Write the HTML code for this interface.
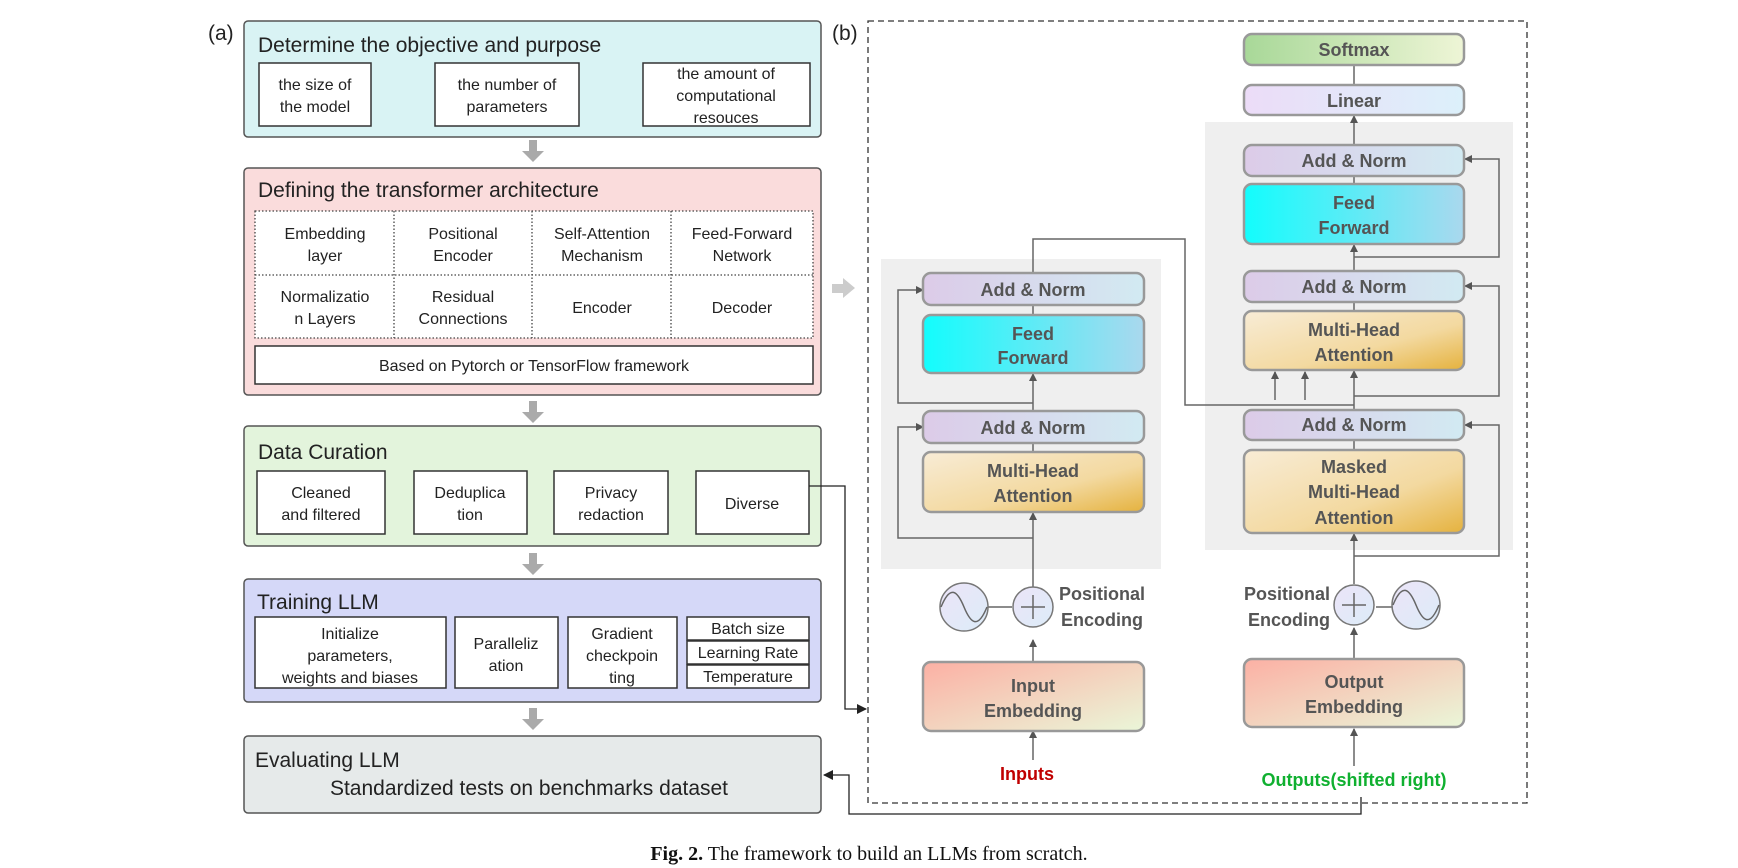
<!DOCTYPE html>
<html><head><meta charset="utf-8"><style>
html,body{margin:0;padding:0;background:#fff;}
svg{display:block;}
.t{font-family:"Liberation Sans",sans-serif;fill:#222;}
.s{font-family:"Liberation Sans",sans-serif;fill:#222;font-size:16px;text-anchor:middle;}
.b{font-family:"Liberation Sans",sans-serif;font-weight:bold;fill:#555;font-size:18px;text-anchor:middle;}
</style></head><body>
<svg width="1738" height="868" viewBox="0 0 1738 868" xmlns="http://www.w3.org/2000/svg">
<defs>
<linearGradient id="an" x1="0" y1="0" x2="1" y2="0"><stop offset="0" stop-color="#dccbe8"/><stop offset="1" stop-color="#d2eaf2"/></linearGradient>
<linearGradient id="ff" x1="0" y1="0" x2="1" y2="0"><stop offset="0" stop-color="#12fdfd"/><stop offset="1" stop-color="#aad8ee"/></linearGradient>
<linearGradient id="mh" x1="0" y1="0" x2="1" y2="1"><stop offset="0" stop-color="#f8ecd6"/><stop offset="0.6" stop-color="#f3d9a0"/><stop offset="1" stop-color="#e5b23e"/></linearGradient>
<linearGradient id="em" x1="0" y1="0" x2="1" y2="1"><stop offset="0" stop-color="#fcb0a4"/><stop offset="1" stop-color="#eaf6d8"/></linearGradient>
<linearGradient id="sm" x1="0" y1="0" x2="1" y2="0"><stop offset="0" stop-color="#a8d898"/><stop offset="1" stop-color="#eef5d6"/></linearGradient>
<linearGradient id="ln" x1="0" y1="0" x2="1" y2="0"><stop offset="0" stop-color="#ecdcf8"/><stop offset="1" stop-color="#dcf0fa"/></linearGradient>
<linearGradient id="ci" x1="0" y1="0" x2="1" y2="1"><stop offset="0" stop-color="#ece4f8"/><stop offset="1" stop-color="#dcecf8"/></linearGradient>
<marker id="ar" markerWidth="8" markerHeight="8" refX="7" refY="4" orient="auto" markerUnits="userSpaceOnUse"><path d="M0,0 L8,4 L0,8 z" fill="#555"/></marker>
<marker id="ak" markerWidth="10" markerHeight="10" refX="9" refY="5" orient="auto" markerUnits="userSpaceOnUse"><path d="M0,0 L10,5 L0,10 z" fill="#222"/></marker>
</defs>

<!-- Panel (a) -->
<text class="t" x="208" y="40" font-size="21">(a)</text>

<rect x="244" y="21" width="577" height="116" rx="4" fill="#d9f3f4" stroke="#555" stroke-width="1.5"/>
<text class="t" x="258" y="52" font-size="21">Determine the objective and purpose</text>
<rect x="259" y="63" width="112" height="63" fill="#fff" stroke="#333" stroke-width="1.5"/>
<text class="s" x="315" y="90">the size of</text><text class="s" x="315" y="112">the model</text>
<rect x="435" y="63" width="144" height="63" fill="#fff" stroke="#333" stroke-width="1.5"/>
<text class="s" x="507" y="90">the number of</text><text class="s" x="507" y="112">parameters</text>
<rect x="643" y="63" width="167" height="63" fill="#fff" stroke="#333" stroke-width="1.5"/>
<text class="s" x="726" y="79">the amount of</text><text class="s" x="726" y="101">computational</text><text class="s" x="726" y="123">resouces</text>

<g fill="#aaa"><rect x="529" y="140" width="8" height="12"/><path d="M522,151 L544,151 L533,162 z"/></g>

<rect x="244" y="168" width="577" height="227" rx="4" fill="#fadcdc" stroke="#555" stroke-width="1.5"/>
<text class="t" x="258" y="197" font-size="21">Defining the transformer architecture</text>
<g stroke="#444" stroke-width="1.3" stroke-dasharray="1.5,2" fill="none">
<rect x="255" y="211" width="558" height="127" fill="#fff"/>
<line x1="255" y1="275" x2="813" y2="275"/>
<line x1="394" y1="211" x2="394" y2="338"/><line x1="532" y1="211" x2="532" y2="338"/><line x1="671" y1="211" x2="671" y2="338"/>
</g>
<text class="s" x="325" y="239">Embedding</text><text class="s" x="325" y="261">layer</text>
<text class="s" x="463" y="239">Positional</text><text class="s" x="463" y="261">Encoder</text>
<text class="s" x="602" y="239">Self-Attention</text><text class="s" x="602" y="261">Mechanism</text>
<text class="s" x="742" y="239">Feed-Forward</text><text class="s" x="742" y="261">Network</text>
<text class="s" x="325" y="302">Normalizatio</text><text class="s" x="325" y="324">n Layers</text>
<text class="s" x="463" y="302">Residual</text><text class="s" x="463" y="324">Connections</text>
<text class="s" x="602" y="313">Encoder</text>
<text class="s" x="742" y="313">Decoder</text>
<rect x="255" y="346" width="558" height="38" fill="#fff" stroke="#333" stroke-width="1.5"/>
<text class="s" x="534" y="371">Based on Pytorch or TensorFlow framework</text>

<g fill="#aaa"><rect x="529" y="401" width="8" height="12"/><path d="M522,412 L544,412 L533,423 z"/></g>

<rect x="244" y="426" width="577" height="120" rx="4" fill="#e3f4dc" stroke="#555" stroke-width="1.5"/>
<text class="t" x="258" y="459" font-size="21">Data Curation</text>
<rect x="257" y="471" width="128" height="63" fill="#fff" stroke="#333" stroke-width="1.5"/>
<text class="s" x="321" y="498">Cleaned</text><text class="s" x="321" y="520">and filtered</text>
<rect x="414" y="471" width="113" height="63" fill="#fff" stroke="#333" stroke-width="1.5"/>
<text class="s" x="470" y="498">Deduplica</text><text class="s" x="470" y="520">tion</text>
<rect x="554" y="471" width="114" height="63" fill="#fff" stroke="#333" stroke-width="1.5"/>
<text class="s" x="611" y="498">Privacy</text><text class="s" x="611" y="520">redaction</text>
<rect x="696" y="471" width="113" height="63" fill="#fff" stroke="#333" stroke-width="1.5"/>
<text class="s" x="752" y="509">Diverse</text>

<g fill="#aaa"><rect x="529" y="553" width="8" height="12"/><path d="M522,564 L544,564 L533,575 z"/></g>

<rect x="244" y="579" width="577" height="123" rx="4" fill="#d5d8f8" stroke="#555" stroke-width="1.5"/>
<text class="t" x="257" y="609" font-size="21">Training LLM</text>
<rect x="255" y="617" width="191" height="71" fill="#fff" stroke="#333" stroke-width="1.5"/>
<text class="s" x="350" y="639">Initialize</text><text class="s" x="350" y="661">parameters,</text><text class="s" x="350" y="683">weights and biases</text>
<rect x="455" y="617" width="103" height="71" fill="#fff" stroke="#333" stroke-width="1.5"/>
<text class="s" x="506" y="649">Paralleliz</text><text class="s" x="506" y="671">ation</text>
<rect x="568" y="617" width="109" height="71" fill="#fff" stroke="#333" stroke-width="1.5"/>
<text class="s" x="622" y="639">Gradient</text><text class="s" x="622" y="661">checkpoin</text><text class="s" x="622" y="683">ting</text>
<g fill="#fff" stroke="#333" stroke-width="1.5">
<rect x="687" y="617" width="122" height="23"/><rect x="687" y="641" width="122" height="23"/><rect x="687" y="665" width="122" height="23"/></g>
<text class="s" x="748" y="634" font-size="13">Batch size</text>
<text class="s" x="748" y="658" font-size="13">Learning Rate</text>
<text class="s" x="748" y="682" font-size="13">Temperature</text>

<g fill="#aaa"><rect x="529" y="708" width="8" height="12"/><path d="M522,719 L544,719 L533,730 z"/></g>

<rect x="244" y="736" width="577" height="77" rx="4" fill="#e6eaea" stroke="#555" stroke-width="1.5"/>
<text class="t" x="255" y="767" font-size="21">Evaluating LLM</text>
<text class="t" x="529" y="795" font-size="21" text-anchor="middle">Standardized tests on benchmarks dataset</text>

<!-- connectors between panels -->
<polyline points="809,486 845,486 845,709 866,709" fill="none" stroke="#222" stroke-width="1.3" marker-end="url(#ak)"/>
<polyline points="1361,797 1361,814 849,814 849,775 824,775" fill="none" stroke="#222" stroke-width="1.3" marker-end="url(#ak)"/>
<g fill="#ccc"><rect x="832" y="284" width="12" height="9"/><path d="M843,278 L855,288 L843,298 z"/></g>

<!-- Panel (b) -->
<text class="t" x="832" y="40" font-size="21">(b)</text>
<rect x="868" y="21" width="659" height="782" fill="none" stroke="#333" stroke-width="1.3" stroke-dasharray="6,4"/>

<rect x="881" y="259" width="280" height="310" fill="#efefef"/>
<rect x="1205" y="122" width="308" height="428" fill="#efefef"/>

<g stroke="#666" stroke-width="1.5" fill="none">
<!-- encoder main line -->
<line x1="1033" y1="662" x2="1033" y2="640" marker-end="url(#ar)"/>
<line x1="1033" y1="597" x2="1033" y2="513" marker-end="url(#ar)"/>
<line x1="1033" y1="443" x2="1033" y2="374" marker-end="url(#ar)"/>
<line x1="1033" y1="305" x2="1033" y2="315"/>
<line x1="1033" y1="443" x2="1033" y2="452"/>
<line x1="1033" y1="760" x2="1033" y2="731" marker-end="url(#ar)"/>
<polyline points="1033,538 898,538 898,427 923,427" marker-end="url(#ar)"/>
<polyline points="1033,403 898,403 898,290 923,290" marker-end="url(#ar)"/>
<line x1="988" y1="607" x2="1012" y2="607"/>
<!-- cross connection -->
<polyline points="1033,273 1033,239 1185,239 1185,405 1354,405"/>
<line x1="1275" y1="400" x2="1275" y2="372" marker-end="url(#ar)"/>
<line x1="1305" y1="400" x2="1305" y2="372" marker-end="url(#ar)"/>
<!-- decoder main line -->
<line x1="1354" y1="766" x2="1354" y2="729" marker-end="url(#ar)"/>
<line x1="1354" y1="659" x2="1354" y2="628" marker-end="url(#ar)"/>
<line x1="1354" y1="584" x2="1354" y2="534" marker-end="url(#ar)"/>
<line x1="1354" y1="440" x2="1354" y2="450"/>
<line x1="1354" y1="410" x2="1354" y2="371" marker-end="url(#ar)"/>
<line x1="1354" y1="302" x2="1354" y2="311"/>
<line x1="1354" y1="271" x2="1354" y2="245" marker-end="url(#ar)"/>
<line x1="1354" y1="176" x2="1354" y2="184"/>
<line x1="1354" y1="145" x2="1354" y2="116" marker-end="url(#ar)"/>
<line x1="1354" y1="65" x2="1354" y2="85"/>
<polyline points="1354,556 1499,556 1499,425 1465,425" marker-end="url(#ar)"/>
<polyline points="1354,396 1499,396 1499,286 1465,286" marker-end="url(#ar)"/>
<polyline points="1354,257 1499,257 1499,159 1465,159" marker-end="url(#ar)"/>
<line x1="1376" y1="607" x2="1392" y2="607"/>
</g>

<!-- encoder boxes -->
<g stroke="#999" stroke-width="2.5">
<rect x="923" y="273" width="221" height="32" rx="8" fill="url(#an)"/>
<rect x="923" y="315" width="221" height="58" rx="8" fill="url(#ff)"/>
<rect x="923" y="411" width="221" height="32" rx="8" fill="url(#an)"/>
<rect x="923" y="452" width="221" height="60" rx="8" fill="url(#mh)"/>
<rect x="923" y="662" width="221" height="69" rx="8" fill="url(#em)"/>
<rect x="1244" y="34" width="220" height="31" rx="8" fill="url(#sm)"/>
<rect x="1244" y="85" width="220" height="30" rx="8" fill="url(#ln)"/>
<rect x="1244" y="145" width="220" height="31" rx="8" fill="url(#an)"/>
<rect x="1244" y="184" width="220" height="60" rx="8" fill="url(#ff)"/>
<rect x="1244" y="271" width="220" height="31" rx="8" fill="url(#an)"/>
<rect x="1244" y="311" width="220" height="59" rx="8" fill="url(#mh)"/>
<rect x="1244" y="410" width="220" height="30" rx="8" fill="url(#an)"/>
<rect x="1244" y="450" width="220" height="83" rx="8" fill="url(#mh)"/>
<rect x="1244" y="659" width="220" height="68" rx="8" fill="url(#em)"/>
</g>
<text class="b" x="1033" y="296">Add &amp; Norm</text>
<text class="b" x="1033" y="340">Feed</text><text class="b" x="1033" y="364">Forward</text>
<text class="b" x="1033" y="434">Add &amp; Norm</text>
<text class="b" x="1033" y="477">Multi-Head</text><text class="b" x="1033" y="502">Attention</text>
<text class="b" x="1033" y="692">Input</text><text class="b" x="1033" y="717">Embedding</text>
<text class="b" x="1354" y="56">Softmax</text>
<text class="b" x="1354" y="107">Linear</text>
<text class="b" x="1354" y="167">Add &amp; Norm</text>
<text class="b" x="1354" y="209">Feed</text><text class="b" x="1354" y="234">Forward</text>
<text class="b" x="1354" y="293">Add &amp; Norm</text>
<text class="b" x="1354" y="336">Multi-Head</text><text class="b" x="1354" y="361">Attention</text>
<text class="b" x="1354" y="431">Add &amp; Norm</text>
<text class="b" x="1354" y="473">Masked</text><text class="b" x="1354" y="498">Multi-Head</text><text class="b" x="1354" y="524">Attention</text>
<text class="b" x="1354" y="688">Output</text><text class="b" x="1354" y="713">Embedding</text>

<!-- positional encodings -->
<g stroke="#777" stroke-width="1.5">
<circle cx="964" cy="607" r="24" fill="url(#ci)"/>
<circle cx="1033" cy="607" r="20" fill="url(#ci)"/>
<circle cx="1354" cy="605" r="20" fill="url(#ci)"/>
<circle cx="1416" cy="605" r="24" fill="url(#ci)"/>
</g>
<g stroke="#666" stroke-width="1.5" fill="none">
<path d="M941,607 C950,585 957,590 964,607 C971,624 978,629 987,607"/>
<path d="M1393,605 C1402,583 1409,588 1416,605 C1423,622 1430,627 1439,605"/>
<line x1="1033" y1="595" x2="1033" y2="619"/><line x1="1021" y1="607" x2="1045" y2="607"/>
<line x1="1354" y1="593" x2="1354" y2="617"/><line x1="1342" y1="605" x2="1366" y2="605"/>
</g>
<text class="b" x="1059" y="600" style="text-anchor:start">Positional</text>
<text class="b" x="1061" y="626" style="text-anchor:start">Encoding</text>
<text class="b" x="1330" y="600" style="text-anchor:end">Positional</text>
<text class="b" x="1330" y="626" style="text-anchor:end">Encoding</text>

<text class="b" x="1027" y="780" style="fill:#c00000">Inputs</text>
<text class="b" x="1354" y="786" style="fill:#10b030">Outputs(shifted right)</text>

<!-- caption -->
<text x="869" y="860" font-family="'Liberation Serif',serif" font-size="20" text-anchor="middle" fill="#111"><tspan font-weight="bold">Fig. 2.</tspan>  The framework to build an LLMs from scratch.</text>
</svg>
</body></html>
